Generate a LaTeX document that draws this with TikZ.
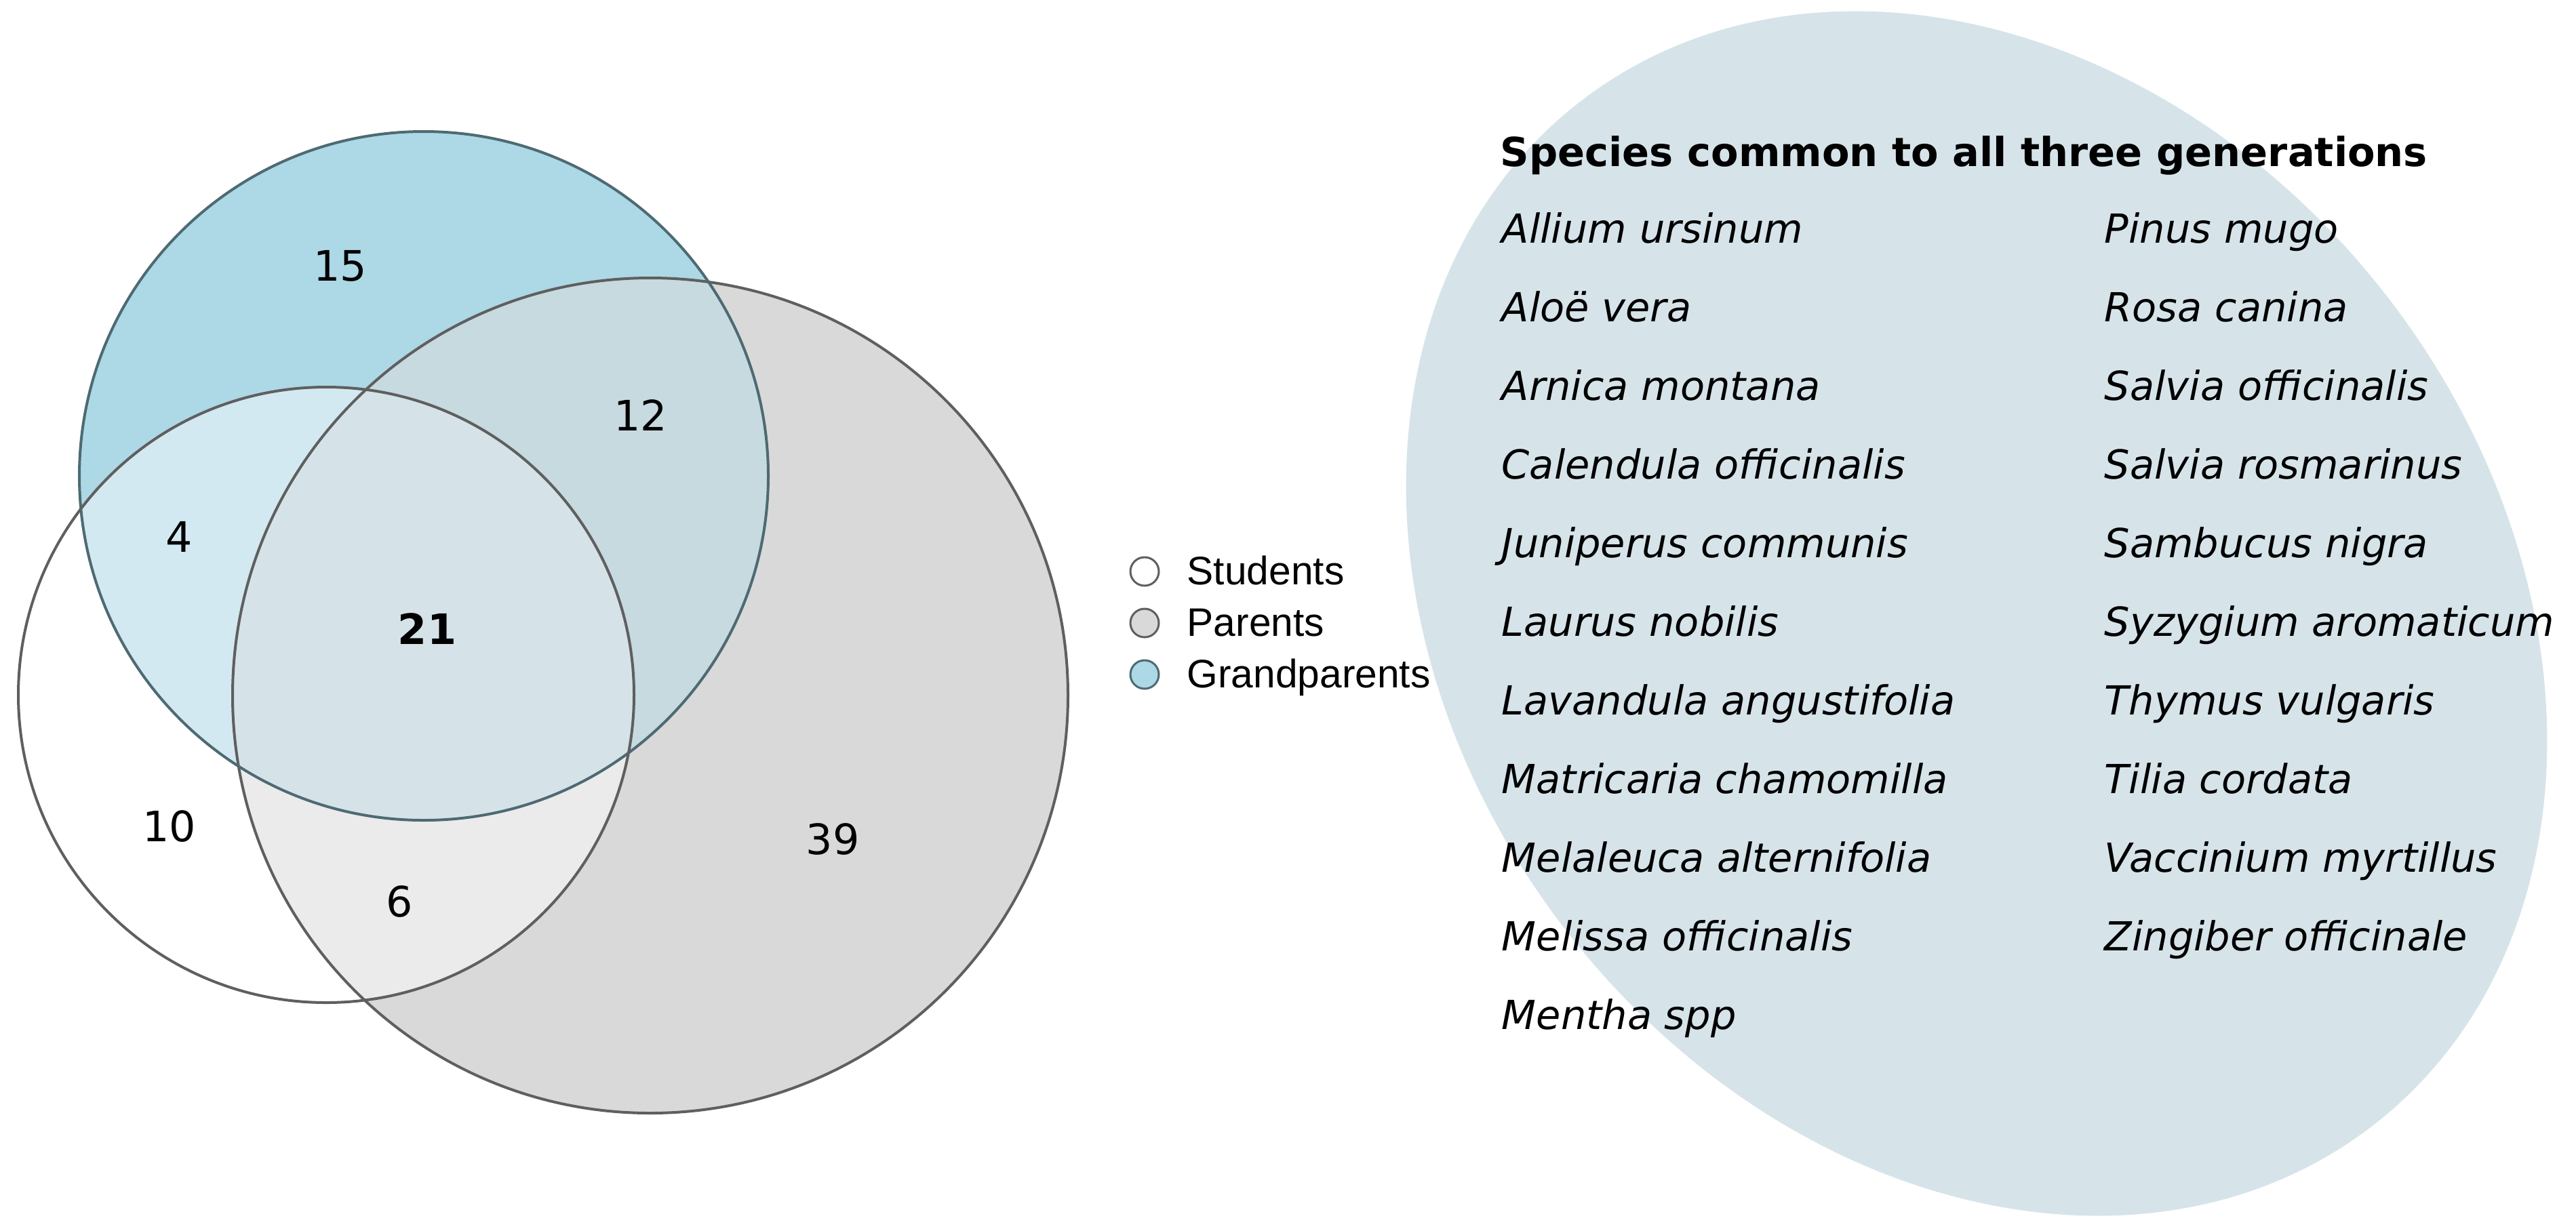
\documentclass[tikz,border=0pt]{standalone}
\usepackage{fontspec}
\setmainfont{DejaVu Sans}
\newfontfamily\legfont{Liberation Sans}
\definecolor{gfill}{HTML}{D9D9D9}
\definecolor{bfill}{HTML}{ADD8E6}
\definecolor{bgfill}{HTML}{C6DAE0}
\definecolor{wbfill}{HTML}{D3E9F1}
\definecolor{wgfill}{HTML}{EBEBEB}
\definecolor{allfill}{HTML}{D5E3E9}
\definecolor{ellfill}{HTML}{D6E4EA}
\definecolor{lineg}{HTML}{5F5F5F}
\definecolor{lineb}{HTML}{4E6A72}
\begin{document}
\begin{tikzpicture}[
  outl/.style={draw=lineg, line width=0.04cm},
  num/.style={font=\fontsize{17.6pt}{20pt}\selectfont, inner sep=0pt},
  title/.style={anchor=base west, inner sep=0pt, font=\fontsize{16.8pt}{20pt}\selectfont\bfseries},
  spc/.style={anchor=base west, inner sep=0pt, font=\fontsize{16.8pt}{20pt}\selectfont\itshape},
  legc/.style={circle, draw=lineg, line width=0.03cm, minimum size=0.42cm, inner sep=0pt},
  legt/.style={anchor=base west, inner sep=0pt, font=\legfont\fontsize{16.7pt}{20pt}\selectfont}
]
\useasboundingbox (0,0) rectangle (37.99,-18.12);
% common-species ellipse
\begin{scope}[shift={(29.15,-9.05)}, rotate=37.8]
  \fill[ellfill] (0,0) ellipse [x radius=7.65cm, y radius=9.55cm];
\end{scope}
% Venn circles
\coordinate (cS) at (4.81,-10.25);
\coordinate (cP) at (9.59,-10.26);
\coordinate (cG) at (6.25,-7.02);
\fill[gfill] (cP) circle [radius=6.16cm];
\fill[bfill] (cG) circle [radius=5.08cm];
\begin{scope}
  \clip (cG) circle [radius=5.08cm];
  \fill[bgfill] (cP) circle [radius=6.16cm];
\end{scope}
\fill[white] (cS) circle [radius=4.54cm];
\begin{scope}
  \clip (cS) circle [radius=4.54cm];
  \fill[wbfill] (cG) circle [radius=5.08cm];
  \fill[wgfill] (cP) circle [radius=6.16cm];
  \clip (cG) circle [radius=5.08cm];
  \fill[allfill] (cP) circle [radius=6.16cm];
\end{scope}
\draw[outl] (cP) circle [radius=6.16cm];
\draw[outl, draw=lineb] (cG) circle [radius=5.08cm];
\draw[outl] (cS) circle [radius=4.54cm];
% counts
\node[num] (n15) at (5.02,-3.92) {15};
\node[num] (n12) at (9.45,-6.13) {12};
\node[num] (n4) at (2.64,-7.92) {4};
\node[num] (n21) at (6.30,-9.28) {\bfseries 21};
\node[num] (n10) at (2.50,-12.19) {10};
\node[num] (n6) at (5.89,-13.30) {6};
\node[num] (n39) at (12.28,-12.38) {39};
% legend
\node[legc, fill=white] (ls) at (16.88,-8.43) {};
\node[legc, fill=gfill] (lp) at (16.88,-9.19) {};
\node[legc, fill=bfill, draw=lineb] (lg) at (16.88,-9.95) {};
\node[legt] (ts) at (17.50,-8.62) {Students};
\node[legt] (tp) at (17.50,-9.38) {Parents};
\node[legt] (tg) at (17.50,-10.14) {Grandparents};
% species list
\node[title] (hd) at (22.12,-2.45) {Species common to all three generations};
\node[spc] (a1) at (22.14,-3.58) {Allium ursinum};
\node[spc] (a2) at (22.14,-4.74) {Aloë vera};
\node[spc] (a3) at (22.14,-5.90) {Arnica montana};
\node[spc] (a4) at (22.14,-7.06) {Calendula officinalis};
\node[spc] (a5) at (22.14,-8.22) {Juniperus communis};
\node[spc] (a6) at (22.14,-9.38) {Laurus nobilis};
\node[spc] (a7) at (22.14,-10.54) {Lavandula angustifolia};
\node[spc] (a8) at (22.14,-11.70) {Matricaria chamomilla};
\node[spc] (a9) at (22.14,-12.86) {Melaleuca alternifolia};
\node[spc] (a10) at (22.14,-14.02) {Melissa officinalis};
\node[spc] (a11) at (22.14,-15.18) {Mentha spp};
\node[spc] (b1) at (31.03,-3.58) {Pinus mugo};
\node[spc] (b2) at (31.03,-4.74) {Rosa canina};
\node[spc] (b3) at (31.03,-5.90) {Salvia officinalis};
\node[spc] (b4) at (31.03,-7.06) {Salvia rosmarinus};
\node[spc] (b5) at (31.03,-8.22) {Sambucus nigra};
\node[spc] (b6) at (31.03,-9.38) {Syzygium aromaticum};
\node[spc] (b7) at (31.03,-10.54) {Thymus vulgaris};
\node[spc] (b8) at (31.03,-11.70) {Tilia cordata};
\node[spc] (b9) at (31.03,-12.86) {Vaccinium myrtillus};
\node[spc] (b10) at (31.03,-14.02) {Zingiber officinale};
\end{tikzpicture}
\end{document}
